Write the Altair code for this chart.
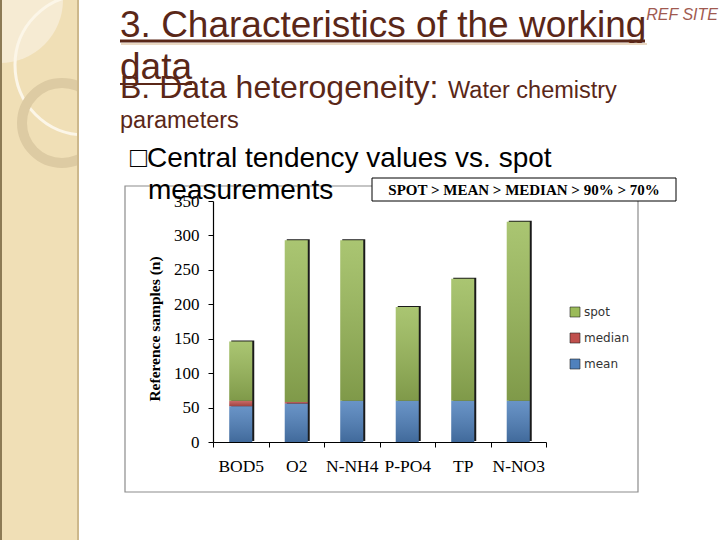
import altair as alt
import pandas as pd

# ---- data ----
params = ["BOD5", "O2", "N-NH4", "P-PO4", "TP", "N-NO3"]
mean_vals = [52, 56, 60, 60, 60, 60]
median_vals = [8, 2, 0, 0, 0, 0]
spot_vals = [86, 235, 233, 136, 177, 260]
series = ["mean", "median", "spot"]
legend_order = ["spot", "median", "mean"]
legend_colors = ["#9BBB59", "#C0504D", "#4F81BD"]
y_ticks = [0, 50, 100, 150, 200, 250, 300, 350]

rows = []
for i, p in enumerate(params):
    for k, (s, vals) in enumerate(zip(series, [mean_vals, median_vals, spot_vals])):
        rows.append({"param": p, "series": s, "n": vals[i], "order": k})
df = pd.DataFrame(rows)
totals = pd.DataFrame({
    "param": params,
    "total": [a + b + c for a, b, c in zip(mean_vals, median_vals, spot_vals)],
})
one = pd.DataFrame({"d": [0]})

W, H = 333, 241
PL, PT = 213, 201

BROWN = "#5A2718"
SANS = "Liberation Sans"
SERIF = "Liberation Serif"

x_enc = alt.X(
    "param:N",
    scale=alt.Scale(domain=params, paddingInner=0, paddingOuter=0),
    axis=alt.Axis(
        title=None, labelAngle=0, labelFont=SERIF, labelFontSize=17.5,
        labelColor="#000", labelPadding=10, tickBand="extent", tickSize=5,
        tickColor="#000", domainColor="#000", domainWidth=1.2, zindex=2,
    ),
)
y_scale = alt.Scale(domain=[0, 350], nice=False)
y_axis = alt.Axis(
    title=None, values=y_ticks, labelFont=SERIF, labelFontSize=17,
    labelColor="#000", labelPadding=9, tickSize=5, tickColor="#000",
    domainColor="#000", domainWidth=1.2, grid=False, zindex=2,
)

# ---- slide decorations ----
panel = alt.Chart(one).mark_rect(fill="#F0DFB6").encode(
    x=alt.value(-PL), x2=alt.value(78 - PL), y=alt.value(-PT), y2=alt.value(540 - PT))
light = alt.Chart(one).mark_point(shape="circle", filled=True, fill="#F6EBD3", opacity=1, size=15876).encode(
    x=alt.value(0 - PL), y=alt.value(0 - PT))
arc1 = alt.Chart(one).mark_point(shape="circle", filled=False, stroke="#FCF6E8", strokeWidth=3, opacity=1, size=19600).encode(
    x=alt.value(85 - PL), y=alt.value(65 - PT))
ring = alt.Chart(one).mark_point(shape="circle", filled=False, stroke="#DDCBA3", strokeWidth=10, opacity=1, size=6400).encode(
    x=alt.value(62 - PL), y=alt.value(123 - PT))
cover = alt.Chart(one).mark_rect(fill="#FFFFFF").encode(
    x=alt.value(79 - PL), x2=alt.value(170 - PL), y=alt.value(-PT), y2=alt.value(220 - PT))
edge_r = alt.Chart(one).mark_rule(color="#CDB88C", strokeWidth=2).encode(
    x=alt.value(78 - PL), y=alt.value(-PT), y2=alt.value(540 - PT))
edge_l = alt.Chart(one).mark_rule(color="#8C7A55", strokeWidth=2).encode(
    x=alt.value(1 - PL), y=alt.value(-PT), y2=alt.value(540 - PT))

def txt(s, x, y, size, color="#000", font=SANS, weight="normal", style="normal", align="left"):
    return alt.Chart(one).mark_text(
        text=s, font=font, fontSize=size, color=color, fontWeight=weight,
        fontStyle=style, align=align, baseline="alphabetic",
    ).encode(x=alt.value(x - PL), y=alt.value(y - PT))

def line(x1, x2, y, color, w):
    return alt.Chart(one).mark_rule(color=color, strokeWidth=w).encode(
        x=alt.value(x1 - PL), x2=alt.value(x2 - PL), y=alt.value(y - PT))

title1 = txt("3. Characteristics of the working", 120, 37, 37, BROWN)
ul1_shadow = line(121, 647, 44, "#EBD9C3", 2)
ul1 = line(120, 645, 41, BROWN, 3)
title2 = txt("data", 120, 79, 37, BROWN)
ul2 = line(120, 192, 84, BROWN, 2)
sub1 = txt("B. Data heterogeneity:", 120, 98, 32, BROWN)
sub2 = txt("Water chemistry", 448, 98, 23.5, BROWN)
sub3 = txt("parameters", 120, 128, 23.5, BROWN)
ref = txt("REF SITE", 718, 20, 16, "#A05A50", style="italic", align="right")
bul1 = txt("\u25A1Central tendency values vs. spot", 130, 167, 28, "#000")
bul2 = txt("measurements", 148, 199, 28, "#000")

frame = alt.Chart(one).mark_rect(fill="#FFFFFF", stroke="#8C8C8C", strokeWidth=1.2).encode(
    x=alt.value(125 - PL), x2=alt.value(638 - PL), y=alt.value(186 - PT), y2=alt.value(492 - PT))
box = alt.Chart(one).mark_rect(fill="#FFFFFF", stroke="#000", strokeWidth=1).encode(
    x=alt.value(372 - PL), x2=alt.value(676 - PL), y=alt.value(178 - PT), y2=alt.value(201 - PT))
box_txt = alt.Chart(one).mark_text(
    text="SPOT > MEAN > MEDIAN > 90% > 70%", font=SERIF, fontSize=15, fontWeight="bold",
    color="#000", align="center", baseline="middle",
).encode(x=alt.value(524 - PL), y=alt.value(190 - PT))

ytitle = alt.Chart(one).mark_text(
    text="Reference samples (n)", font=SERIF, fontSize=15.5, fontWeight="bold",
    color="#000", angle=270, align="center", baseline="middle",
).encode(x=alt.value(155 - PL), y=alt.value(329 - PT))

# ---- chart ----
base = alt.Chart(df).transform_stack(
    stack="n", groupby=["param"], as_=["y0", "y1"],
    sort=[alt.SortField("order", order="ascending")],
)

shadow = alt.Chart(totals).mark_bar(width=23, xOffset=2, yOffset=-1, color="#1A1A1A").encode(
    x=x_enc, y=alt.Y("total:Q", scale=y_scale, axis=y_axis))

bars = base.mark_bar(width=23).encode(
    x=x_enc,
    y=alt.Y("y0:Q", scale=y_scale, axis=y_axis),
    y2="y1:Q",
    color=alt.Color(
        "series:N",
        scale=alt.Scale(domain=legend_order, range=legend_colors),
        legend=alt.Legend(
            title=None, orient="none", legendX=356, legendY=105,
            symbolType="square", symbolSize=100, symbolStrokeColor="#222",
            symbolStrokeWidth=0.6, labelFont="DejaVu Sans", labelFontSize=12,
            labelColor="#333", rowPadding=12, labelOffset=3,
        ),
    ),
)

shade = base.mark_bar(
    width=23,
    fill=alt.LinearGradient(
        gradient="linear",
        stops=[
            alt.GradientStop(color="rgba(255,255,255,0.15)", offset=0),
            alt.GradientStop(color="rgba(0,0,0,0.18)", offset=1),
        ],
        x1=0, x2=0, y1=0, y2=1,
    ),
).encode(x=x_enc, y=alt.Y("y0:Q", scale=y_scale, axis=y_axis), y2="y1:Q")

chart = alt.layer(
    panel, light, arc1, ring, cover, edge_r, edge_l,
    frame, shadow, bars, shade, ytitle, box, box_txt,
    title1, ul1_shadow, ul1, title2, ul2, sub1, sub2, sub3, ref, bul1, bul2,
).properties(
    width=W, height=H,
    padding={"left": PL, "top": PT, "right": 720 - PL - W, "bottom": 540 - PT - H},
    autosize=alt.AutoSizeParams(type="none"),
    background="#FFFFFF",
).configure_view(strokeWidth=0)

chart.save("out.html", embed_options={"renderer": "svg", "actions": False})
